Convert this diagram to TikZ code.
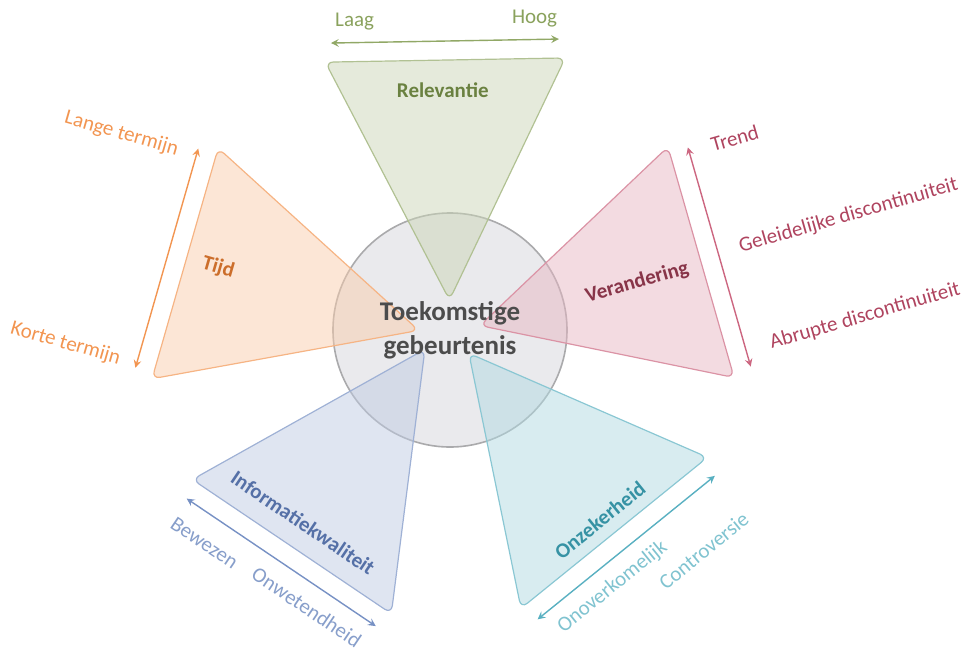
\documentclass[tikz,border=0pt]{standalone}
\usepackage{fontspec}
\setmainfont{Carlito}
\usepackage{tikz}

\definecolor{relev}{RGB}{125,152,75}
\definecolor{tijd}{RGB}{240,130,50}
\definecolor{veran}{RGB}{195,75,105}
\definecolor{info}{RGB}{95,125,185}
\definecolor{onzek}{RGB}{60,162,182}
\definecolor{circlefill}{RGB}{234,234,237}
\definecolor{circleline}{RGB}{170,170,172}

\begin{document}
\begin{tikzpicture}[>=stealth, line join=round, line cap=round, x=0.5pt, y=0.5pt,
	tri/.style={line width=0.6pt, rounded corners=4pt, fill opacity=0.5},
	scalearrow/.style={<->, line width=0.7pt},
	title/.style={inner sep=1pt, font=\fontsize{10.5}{12}\selectfont\bfseries},
	tag/.style={inner sep=1pt, font=\fontsize{10.5}{12}\selectfont}]
	\useasboundingbox (-450,-325) rectangle (512,330);

	% Cirkel in het midden
	\node[circle, draw=circleline, fill=circlefill, line width=0.8pt, minimum size=117pt] (event) at (0,0) {};

	% Driehoeken met schaalpijlen
	\foreach \a/\r/\s/\c in {91/270/0/relev, 164/273/-9/tijd, 16/260/4/veran, 236/268/10/info, 309/261/0/onzek} {
		\begin{scope}[rotate=\a-90]
			\draw[tri, draw=\c!60, fill=\c!40] ({\s-120},\r) -- ({\s+120},\r) -- (\s,30) -- cycle;
			\coordinate (\c-lo) at ({\s-114},{\r+19});
			\coordinate (\c-hi) at ({\s+114},{\r+19});
			\draw[scalearrow, \c!85] (\c-lo) -- (\c-hi);
		\end{scope}
	}

	% Relevantie
	\begin{scope}[rotate=1]
		\node[title, text=relev!85!black] (relevtitle) at (-3,240) {Relevantie};
		\node[tag, text=relev!90] (laag) at (-90,310) {Laag};
		\node[tag, text=relev!90] (hoog) at (90,310) {Hoog};
	\end{scope}

	% Tijd
	\begin{scope}[rotate=74]
		\node[title, text=tijd!85!black, rotate=-16] (tijdtitle) at (-4,240) {Tijd};
		\node[tag, text=tijd!85, rotate=-16, anchor=east] (lang) at (98,309) {Lange termijn};
		\node[tag, text=tijd!85, rotate=-16, anchor=east] (kort) at (-119,307) {Korte termijn};
	\end{scope}

	% Verandering
	\begin{scope}[rotate=-74]
		\node[title, text=veran!70!black, rotate=16] (verantitle) at (6,193) {Verandering};
		\node[tag, text=veran!90!black, rotate=16, anchor=west] (trend) at (-106,300) {Trend};
		\node[tag, text=veran!90!black, rotate=16, anchor=west] (geleidelijk) at (0,299) {Geleidelijke discontinuiteit};
		\node[tag, text=veran!90!black, rotate=16, anchor=west] (abrupt) at (101,302) {Abrupte discontinuiteit};
	\end{scope}

	% Informatiekwaliteit
	\begin{scope}[rotate=146]
		\node[title, text=info!90!black, rotate=-34] (infotitle) at (14,242) {Informatiekwaliteit};
		\node[tag, text=info!75, rotate=-34, anchor=west] (bewezen) at (125,314) {Bewezen};
		\node[tag, text=info!75, rotate=-34, anchor=east] (onwetend) at (-102,310) {Onwetendheid};
	\end{scope}

	% Onzekerheid
	\begin{scope}[rotate=219]
		\node[title, text=onzek!90!black, rotate=39] (onzektitle) at (3,242) {Onzekerheid};
		\node[tag, text=onzek!65, rotate=39, anchor=west] (onoverkomelijk) at (105,302) {Onoverkomelijk};
		\node[tag, text=onzek!65, rotate=39, anchor=east] (controversie) at (-115,331) {Controversie};
	\end{scope}

	% Tekst in de cirkel
	\node[font=\fontsize{13.5}{17}\selectfont\bfseries, text=black!70, align=center] (eventlabel) at (event) {Toekomstige\\gebeurtenis};
\end{tikzpicture}
\end{document}
